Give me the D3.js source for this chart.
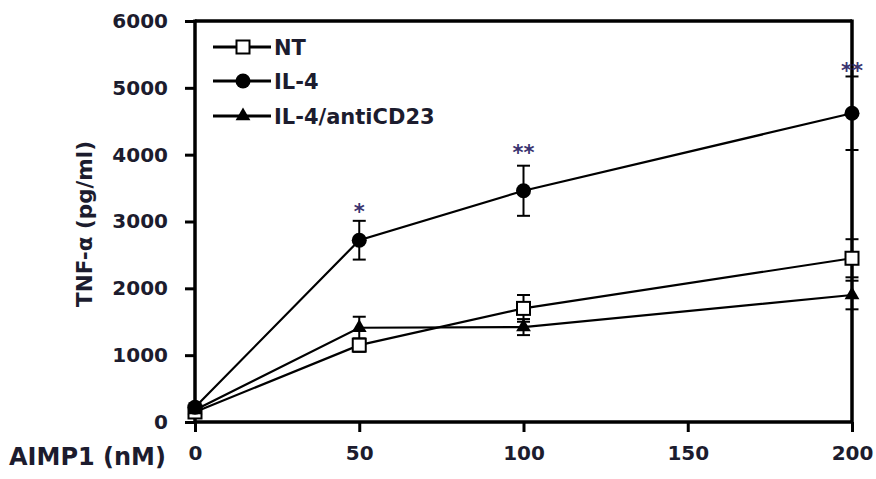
<!DOCTYPE html>
<html>
<head>
<meta charset="utf-8">
<script src="https://cdn.jsdelivr.net/npm/d3@7"></script>
<style>
  html, body { margin: 0; padding: 0; background: #fff; }
  svg { display: block; }
  text { font-family: "DejaVu Sans", Verdana, sans-serif; font-weight: bold; fill: #1c1c2e; }
</style>
</head>
<body>
<svg id="chart" width="876" height="479"></svg>
<script>
const doses = [0, 50, 100, 200];
const xTicks = [0, 50, 100, 150, 200];
const yTicks = [0, 1000, 2000, 3000, 4000, 5000, 6000];

const seriesNames = ["NT", "IL-4", "IL-4/antiCD23"];
const ntValues = [150, 1150, 1700, 2450];
const ntErrors = [50, 100, 200, 285];
const il4Values = [220, 2720, 3460, 4620];
const il4Errors = [60, 290, 375, 550];
const antiValues = [180, 1410, 1420, 1900];
const antiErrors = [50, 165, 120, 214];

const sigDoses = [50, 100, 200];
const sigLabels = ["*", "**", "**"];
const sigLevels = [3040, 3920, 5150];

const xTitle = "AIMP1 (nM)";
const yTitle = "TNF-\u03b1 (pg/ml)";

const svg = d3.select("#chart");
const x = d3.scaleLinear().domain([0, 200]).range([195, 852]);
const y = d3.scaleLinear().domain([0, 6000]).range([422, 21]);

const series = [
  { name: seriesNames[0], values: ntValues, errors: ntErrors, shape: "square" },
  { name: seriesNames[1], values: il4Values, errors: il4Errors, shape: "circle" },
  { name: seriesNames[2], values: antiValues, errors: antiErrors, shape: "triangle" }
];

function marker(sel, shape) {
  if (shape === "square") {
    sel.append("rect").attr("x", -6.5).attr("y", -6.5).attr("width", 13).attr("height", 13)
      .attr("fill", "#fff").attr("stroke", "#000").attr("stroke-width", 2);
  } else if (shape === "circle") {
    sel.append("circle").attr("r", 7.5).attr("fill", "#000");
  } else {
    sel.append("path").attr("d", d3.symbol(d3.symbolTriangle, 95)()).attr("fill", "#000");
  }
}

// frame top/right
svg.append("line").attr("x1", x(0)).attr("x2", x(200)).attr("y1", y(6000)).attr("y2", y(6000))
  .attr("stroke", "#000").attr("stroke-width", 3.5);
svg.append("line").attr("x1", x(200)).attr("x2", x(200)).attr("y1", y(6000) - 1.5).attr("y2", y(0))
  .attr("stroke", "#000").attr("stroke-width", 3.5);

// axes
const yAxis = svg.append("g").attr("transform", `translate(${x(0)},0)`)
  .call(d3.axisLeft(y).tickValues(yTicks).tickSize(10).tickPadding(17).tickFormat(d3.format("d")));
const xAxis = svg.append("g").attr("transform", `translate(0,${y(0)})`)
  .call(d3.axisBottom(x).tickValues(xTicks).tickSize(10).tickPadding(14).tickFormat(d3.format("d")));
[yAxis, xAxis].forEach(g => {
  g.select(".domain").attr("stroke", "#000").attr("stroke-width", 3.5);
  g.selectAll(".tick line").attr("stroke", "#000").attr("stroke-width", 3);
  g.selectAll(".tick text").style("font-size", "20px").attr("fill", "#1c1c2e");
});
yAxis.select(".domain").attr("d", `M0,${y(6000) - 1.5}V${y(0)}`);
xAxis.select(".domain").attr("d", `M${x(0)},0H${x(200)}`);

// titles
svg.append("text").attr("x", 9).attr("y", 465).style("font-size", "24px").text(xTitle);
svg.append("text").attr("transform", `translate(92,224) rotate(-90)`)
  .attr("text-anchor", "middle").style("font-size", "21.5px").text(yTitle);

// lines
const line = d3.line().x(d => x(d[0])).y(d => y(d[1]));
series.forEach(s => {
  const pts = doses.map((d, i) => [d, s.values[i]]);
  svg.append("path").attr("d", line(pts)).attr("fill", "none")
    .attr("stroke", "#000").attr("stroke-width", 2.2);
});

// error bars
series.forEach(s => {
  doses.forEach((d, i) => {
    const cx = x(d), top = y(s.values[i] + s.errors[i]), bot = y(s.values[i] - s.errors[i]);
    const g = svg.append("g").attr("stroke", "#000").attr("stroke-width", 2);
    g.append("line").attr("x1", cx).attr("x2", cx).attr("y1", top).attr("y2", bot);
    g.append("line").attr("x1", cx - 6.5).attr("x2", cx + 6.5).attr("y1", top).attr("y2", top);
    g.append("line").attr("x1", cx - 6.5).attr("x2", cx + 6.5).attr("y1", bot).attr("y2", bot);
  });
});

// markers
series.forEach(s => {
  doses.forEach((d, i) => {
    const g = svg.append("g").attr("transform", `translate(${x(d)},${y(s.values[i])})`);
    marker(g, s.shape);
  });
});

// significance stars
sigDoses.forEach((d, i) => {
  svg.append("text").attr("x", x(d)).attr("y", y(sigLevels[i]))
    .attr("text-anchor", "middle").style("font-size", "21px")
    .style("fill", "#3a3470").text(sigLabels[i]);
});

// legend
const legendY = [47, 81, 116];
series.forEach((s, i) => {
  const g = svg.append("g").attr("transform", `translate(0,${legendY[i]})`);
  g.append("line").attr("x1", 213).attr("x2", 271).attr("y1", 0).attr("y2", 0)
    .attr("stroke", "#000").attr("stroke-width", 3);
  const m = g.append("g").attr("transform", "translate(243,0)");
  marker(m, s.shape);
  g.append("text").attr("x", 274).attr("y", 0).attr("dy", "0.36em")
    .style("font-size", "21px").text(s.name);
});
</script>
</body>
</html>
